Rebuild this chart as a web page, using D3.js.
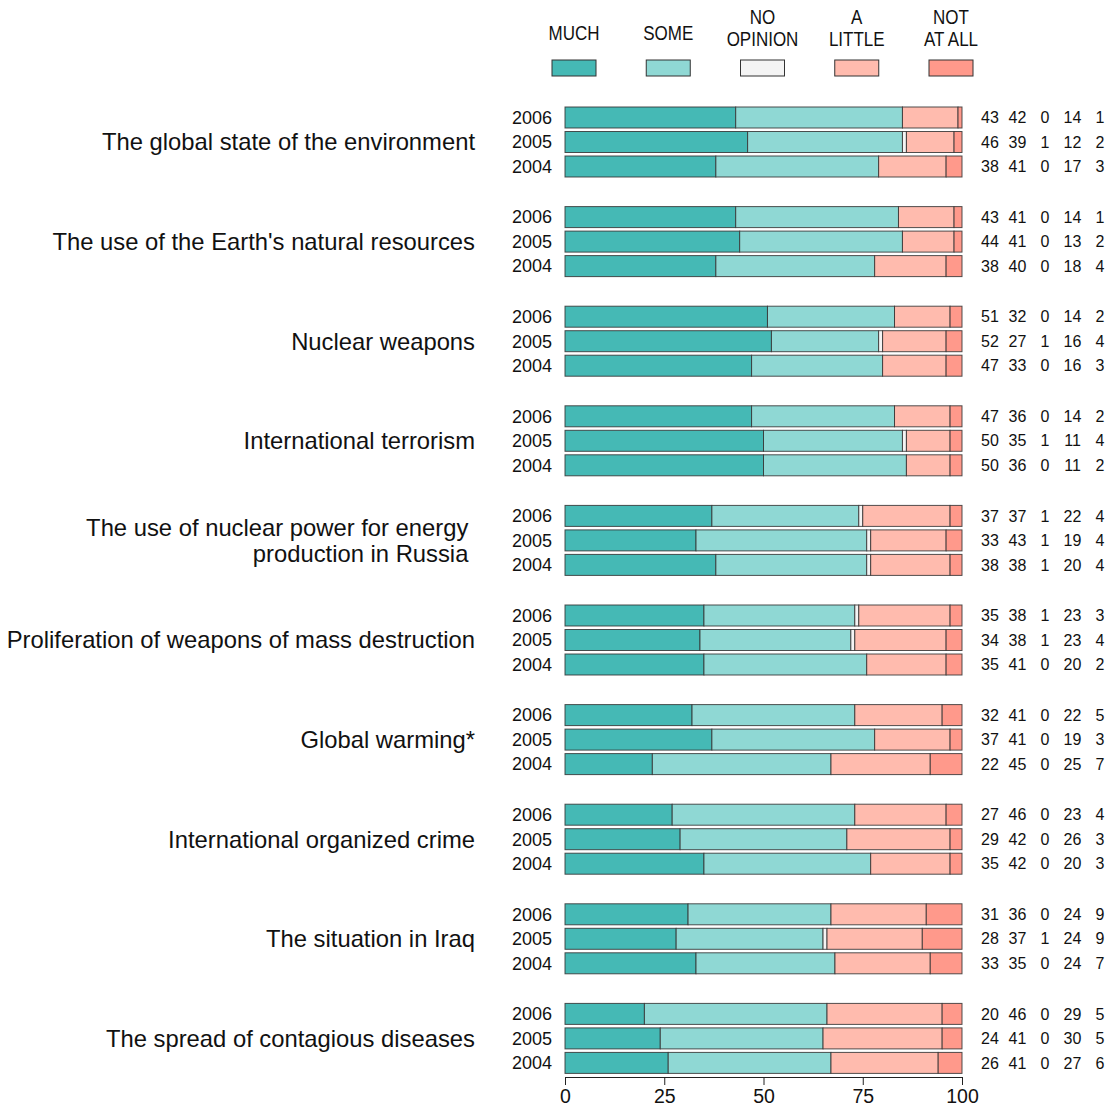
<!DOCTYPE html>
<html>
<head>
<meta charset="utf-8">
<script src="https://cdn.jsdelivr.net/npm/d3@7"></script>
<style>
  body { margin: 0; background: #fff; }
  text { font-family: "Liberation Sans", Arial, sans-serif; fill: #111; }
</style>
</head>
<body>
<div id="chart"></div>
<script>
// answer categories (legend) and their colours
var keys = ["much", "some", "none", "little", "notall"];
var keyLabels = [["MUCH"], ["SOME"], ["NO", "OPINION"], ["A", "LITTLE"], ["NOT", "AT ALL"]];
var colors = ["#45b9b5", "#8fd8d4", "#f4f4f4", "#ffbbae", "#ff998b"];

var years = ["2006", "2005", "2004"];

// topics, two-line label keeps the trailing space of the original
var topics = [
  ["The global state of the environment"],
  ["The use of the Earth's natural resources"],
  ["Nuclear weapons"],
  ["International terrorism"],
  ["The use of nuclear power for energy ", "production in Russia "],
  ["Proliferation of weapons of mass destruction"],
  ["Global warming*"],
  ["International organized crime"],
  ["The situation in Iraq"],
  ["The spread of contagious diseases"]
];

// per topic: rows 2006, 2005, 2004 -> much, some, no opinion, a little, not at all
var much   = [[43,46,38],[43,44,38],[51,52,47],[47,50,50],[37,33,38],[35,34,35],[32,37,22],[27,29,35],[31,28,33],[20,24,26]];
var some   = [[42,39,41],[41,41,40],[32,27,33],[36,35,36],[37,43,38],[38,38,41],[41,41,45],[46,42,42],[36,37,35],[46,41,41]];
var none   = [[0,1,0],[0,0,0],[0,1,0],[0,1,0],[1,1,1],[1,1,0],[0,0,0],[0,0,0],[0,1,0],[0,0,0]];
var little = [[14,12,17],[14,13,18],[14,16,16],[14,11,11],[22,19,20],[23,23,20],[22,19,25],[23,26,20],[24,24,24],[29,30,27]];
var notall = [[1,2,3],[1,2,4],[2,4,3],[2,4,2],[4,4,4],[3,4,2],[5,3,7],[4,3,3],[9,9,7],[5,5,6]];

var xTicks = [0, 25, 50, 75, 100];

var rows = [];
topics.forEach(function(t, i) {
  years.forEach(function(y, j) {
    rows.push({topic: i, year: y, much: much[i][j], some: some[i][j], none: none[i][j], little: little[i][j], notall: notall[i][j]});
  });
});

var width = 1115, height = 1110;

var svg = d3.select("#chart").append("svg")
  .attr("width", width)
  .attr("height", height);

var x = d3.scaleLinear().domain([0, 100]).range([565, 962]).clamp(true);

var yGroup = d3.scaleBand()
  .domain(d3.range(topics.length))
  .range([92.2, 1088.2]);

var yYear = d3.scaleBand()
  .domain(years)
  .range([0, yGroup.bandwidth()])
  .paddingInner(0.143)
  .paddingOuter(0.604);

var color = d3.scaleOrdinal().domain(keys).range(colors);

var series = d3.stack().keys(keys)(rows);

// bars
var groups = svg.append("g").selectAll("g")
  .data(series)
  .enter().append("g")
  .attr("fill", function(d) { return color(d.key); });

groups.selectAll("rect")
  .data(function(d) { return d.map(function(v) { v.key = d.key; return v; }); })
  .enter().append("rect")
  .attr("x", function(d) { return x(d[0]); })
  .attr("y", function(d) { return yGroup(d.data.topic) + yYear(d.data.year); })
  .attr("height", yYear.bandwidth())
  .attr("width", function(d) {
    // last segment closes the bar at 100 (rounded shares)
    var end = d.key == "notall" ? 100 : d[1];
    return Math.max(0, x(end) - x(d[0]));
  })
  .attr("stroke", "#333")
  .attr("stroke-width", 1)
  .attr("stroke-opacity", 0.85);

// year labels
svg.append("g").selectAll("text")
  .data(rows)
  .enter().append("text")
  .attr("x", 552)
  .attr("y", function(d) { return yGroup(d.topic) + yYear(d.year) + yYear.bandwidth() / 2; })
  .attr("dy", "0.35em")
  .attr("text-anchor", "end")
  .style("font-size", "18px")
  .text(function(d) { return d.year; });

// value columns
var xVal = d3.scalePoint().domain(keys).range([990, 1100]);

var valRows = svg.append("g").selectAll("g")
  .data(rows)
  .enter().append("g")
  .attr("transform", function(d) {
    return "translate(0," + (yGroup(d.topic) + yYear(d.year) + yYear.bandwidth() / 2) + ")";
  });

valRows.selectAll("text")
  .data(function(d) { return keys.map(function(k) { return {key: k, v: d[k]}; }); })
  .enter().append("text")
  .attr("x", function(d) { return xVal(d.key); })
  .attr("dy", "0.35em")
  .attr("text-anchor", "middle")
  .style("font-size", "16px")
  .text(function(d) { return d.v; });

// topic labels
var lineH = 26;
var topicText = svg.append("g").selectAll("text")
  .data(topics)
  .enter().append("text")
  .attr("text-anchor", "end")
  .style("font-size", "23.8px")
  .style("white-space", "pre")
  .attr("transform", function(d, i) {
    return "translate(475," + (yGroup(i) + yGroup.bandwidth() / 2) + ")";
  });

topicText.selectAll("tspan")
  .data(function(d) { return d; })
  .enter().append("tspan")
  .attr("x", 0)
  .attr("y", function(d, i, n) { return (i - (n.length - 1) / 2) * lineH; })
  .attr("dy", "0.35em")
  .text(function(d) { return d; });

// x axis
var axis = svg.append("g")
  .attr("transform", "translate(0,1077)")
  .call(d3.axisBottom(x).tickValues(xTicks).tickSize(8).tickSizeOuter(0).tickPadding(4));

axis.select(".domain").attr("stroke", "#222");
axis.selectAll(".tick line").attr("stroke", "#222");
axis.selectAll(".tick text")
  .style("font-size", "19.5px")
  .style("font-family", "'Liberation Sans', Arial, sans-serif")
  .attr("fill", "#111");

// legend
var xLeg = d3.scalePoint().domain(keys).range([574, 951]);

var leg = svg.append("g").selectAll("g")
  .data(keys)
  .enter().append("g")
  .attr("transform", function(d) { return "translate(" + xLeg(d) + ",0)"; });

leg.append("rect")
  .attr("x", -22)
  .attr("y", 60)
  .attr("width", 44)
  .attr("height", 16)
  .attr("fill", function(d) { return color(d); })
  .attr("stroke", "#333")
  .attr("stroke-width", 1);

leg.append("text")
  .attr("text-anchor", "middle")
  .style("font-size", "20px")
  .each(function(d, i) {
    var lines = keyLabels[i];
    var t = d3.select(this);
    lines.forEach(function(l, j) {
      var yy = lines.length == 1 ? 33 : 17 + j * 22;
      t.append("tspan")
        .attr("x", 0)
        .attr("y", yy)
        .attr("dy", "0.35em")
        .text(l);
    });
  })
  .attr("transform", "scale(0.85,1)");
</script>
</body>
</html>
